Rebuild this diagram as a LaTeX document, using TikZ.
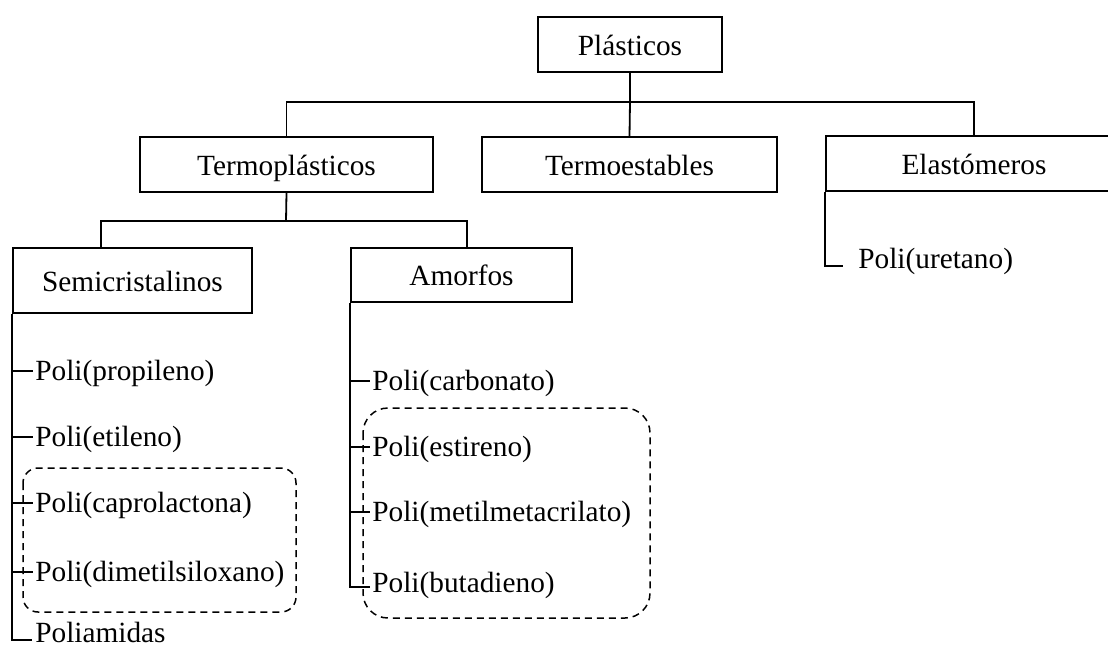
\documentclass[tikz,border=0pt]{standalone}
\usepackage{fontspec}
\setmainfont{Liberation Serif}
\usetikzlibrary{calc}
\begin{document}
\begin{tikzpicture}[x=1pt,y=-1pt,line width=1.8pt,
  font=\fontsize{29.3}{34}\selectfont,
  catbox/.style={draw,rectangle,inner sep=0pt,anchor=center,text height=21pt,text depth=0pt},
  item/.style={anchor=west,inner sep=1.5pt,text height=18pt,text depth=0pt},
  groupbox/.style={draw,dash pattern=on 7pt off 5pt,line width=1.5pt}]
\clip (0,0) rectangle (1108,649);
\fill[white] (0,0) rectangle (1108,649);
% category boxes
\node[catbox,minimum width=184pt,minimum height=55pt] (pl) at (630,44.5) {Plásticos};
\node[catbox,minimum width=293pt,minimum height=55pt] (tp) at (286.5,164.5) {Termoplásticos};
\node[catbox,minimum width=295pt,minimum height=55pt] (te) at (629.5,164.5) {Termoestables};
\node[catbox,minimum width=296pt,minimum height=55pt] (el) at (974,163.5) {Elastómeros};
\node[catbox,minimum width=239pt,minimum height=65pt] (sc) at (132.5,280.5) {Semicristalinos};
\node[catbox,minimum width=221pt,minimum height=54pt] (am) at (461.5,275) {Amorfos};
% bus coordinates
\coordinate (b1) at (630,102);
\coordinate (b2) at (286,221);
% level 1 connectors
\draw (pl.south) -- (b1) -- (te.north);
\draw (tp.north) |- (b1) -| (el.north);
% level 2 connectors
\draw (tp.south) -- (b2);
\draw ($(sc.north west)+(89,0)$) |- (b2) -| ($(am.north east)+(-106,0)$);
% Semicristalinos items
\node[item] (pp) at (33,371) {Poli(propileno)};
\node[item] (pe) at (33,437) {Poli(etileno)};
\node[item] (pc) at (33,503) {Poli(caprolactona)};
\node[item] (pd) at (33,572) {Poli(dimetilsiloxano)};
\node[item] (pa) at (33,633) {Poliamidas};
\coordinate (pae) at (32,640);
\draw (sc.south west) |- (pae);
\foreach \n in {pp,pe,pc,pd}{\draw (sc.south west |- \n.west) -- (\n.west);}
% Amorfos items
\node[item] (pcb) at (370,381) {Poli(carbonato)};
\node[item] (pes) at (370,447) {Poli(estireno)};
\node[item] (pm) at (370,512) {Poli(metilmetacrilato)};
\node[item] (pb) at (370,583) {Poli(butadieno)};
\coordinate (pbe) at (370,587);
\draw (am.south west) |- (pbe);
\foreach \n in {pcb,pes,pm}{\draw (am.south west |- \n.west) -- (\n.west);}
% Elastomeros item
\node[item] (pu) at (856,259) {Poli(uretano)};
\coordinate (pue) at (843,266);
\draw (el.south west) |- (pue);
% dashed groups
\draw[groupbox,rounded corners=15pt] (23,468) rectangle (296,612);
\draw[groupbox,rounded corners=25pt] (363,408) rectangle (650,618);
\end{tikzpicture}
\end{document}
